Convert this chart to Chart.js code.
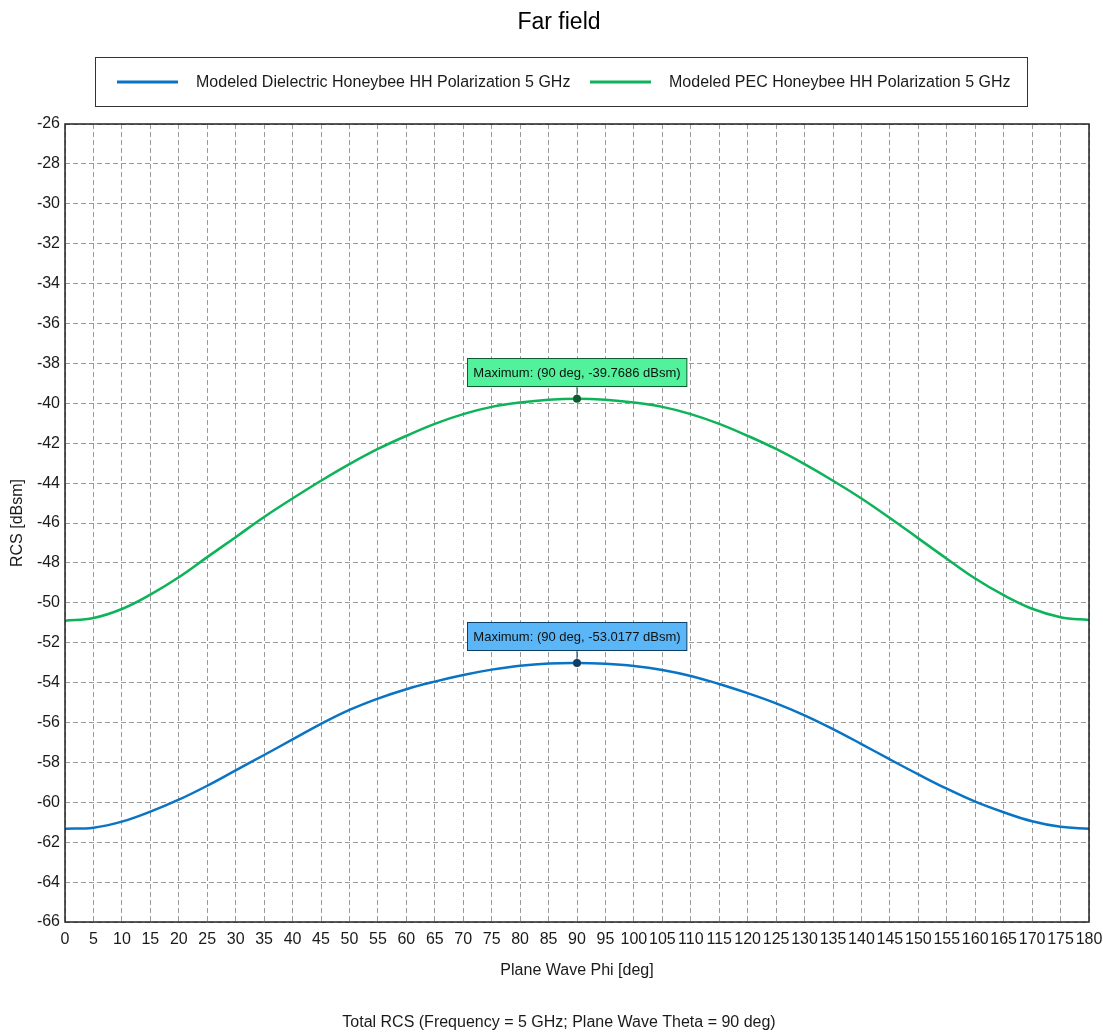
<!DOCTYPE html>
<html>
<head>
<meta charset="utf-8">
<script src="https://cdn.jsdelivr.net/npm/chart.js@4.4.1/dist/chart.umd.min.js"></script>
<style>
  html, body { margin: 0; padding: 0; background: #fff; }
</style>
</head>
<body>
<canvas id="chart" width="1103" height="1035"></canvas>
<script>
// plane wave phi angles [deg]
const phi = [0, 5, 10, 15, 20, 25, 30, 35, 40, 45, 50, 55, 60, 65, 70, 75, 80, 85, 90,
  95, 100, 105, 110, 115, 120, 125, 130, 135, 140, 145, 150, 155, 160, 165, 170, 175, 180];

// RCS [dBsm]
const dielectricRcs = [-61.33, -61.27, -60.97, -60.47, -59.87, -59.17, -58.40, -57.63, -56.85, -56.07,
  -55.37, -54.80, -54.33, -53.95, -53.62, -53.35, -53.15, -53.04, -53.0177,
  -53.06, -53.17, -53.37, -53.67, -54.07, -54.53, -55.04, -55.64, -56.33, -57.08, -57.85,
  -58.60, -59.32, -59.97, -60.50, -60.95, -61.23, -61.33];

const pecRcs = [-50.90, -50.76, -50.31, -49.59, -48.72, -47.71, -46.71, -45.70, -44.77, -43.88,
  -43.05, -42.29, -41.63, -41.03, -40.54, -40.18, -39.96, -39.82, -39.7686,
  -39.82, -39.96, -40.18, -40.54, -41.03, -41.63, -42.29, -43.05, -43.88, -44.77, -45.75,
  -46.77, -47.79, -48.78, -49.62, -50.30, -50.72, -50.86];

const seriesLabels = [
  "Modeled Dielectric Honeybee HH Polarization 5 GHz",
  "Modeled PEC Honeybee HH Polarization 5 GHz"
];
const seriesColors = ["#0a74c4", "#0cb359"];
const markerFill = ["#5ab6f7", "#52f29c"];
const markerDark = ["#0d3f66", "#0d5c30"];

const chartTitle = "Far field";
const footerText = "Total RCS (Frequency = 5 GHz; Plane Wave Theta = 90 deg)";
const xTitle = "Plane Wave Phi [deg]";
const yTitle = "RCS [dBsm]";

const FONT = "'Liberation Sans', Arial, sans-serif";
const textColor = "#1a1a1a";

const toPoints = (ys) => phi.map((x, i) => ({ x: x, y: ys[i] }));

// title, boxed legend, footer, frame and max-value markers
const decorPlugin = {
  id: "decor",
  afterDraw(chart) {
    const ctx = chart.ctx;
    const area = chart.chartArea;
    const xs = chart.scales.x;
    const ys = chart.scales.y;
    ctx.save();

    // frame round the plot
    ctx.strokeStyle = "#222";
    ctx.lineWidth = 1.5;
    ctx.strokeRect(area.left, area.top, area.right - area.left, area.bottom - area.top);

    // title
    ctx.fillStyle = "#000";
    ctx.font = "23px " + FONT;
    ctx.textAlign = "center";
    ctx.textBaseline = "middle";
    ctx.fillText(chartTitle, 559, 23);

    // footer
    ctx.font = "16px " + FONT;
    ctx.fillStyle = textColor;
    ctx.fillText(footerText, 559, 1023);

    // legend
    ctx.strokeStyle = "#333";
    ctx.lineWidth = 1;
    ctx.strokeRect(95.5, 57.5, 932, 49);
    const legendX = [117, 590];
    ctx.textAlign = "left";
    chart.data.datasets.forEach((ds, i) => {
      ctx.strokeStyle = ds.borderColor;
      ctx.lineWidth = 3;
      ctx.beginPath();
      ctx.moveTo(legendX[i], 82);
      ctx.lineTo(legendX[i] + 61, 82);
      ctx.stroke();
      ctx.fillStyle = textColor;
      ctx.fillText(ds.label, legendX[i] + 79, 83);
    });

    // maximum markers
    ctx.font = "13px " + FONT;
    chart.data.datasets.forEach((ds, i) => {
      let best = ds.data[0];
      ds.data.forEach((p) => { if (p.y > best.y) best = p; });
      const px = xs.getPixelForValue(best.x);
      const py = ys.getPixelForValue(best.y);
      const label = "Maximum: (" + best.x + " deg, " + best.y.toFixed(4) + " dBsm)";
      const w = ctx.measureText(label).width + 12;
      const h = 28;
      const bx = Math.round(px - w / 2) + 0.5;
      const by = Math.round(py - 13 - h) + 0.5;

      ctx.strokeStyle = markerDark[i];
      ctx.lineWidth = 1;
      ctx.beginPath();
      ctx.moveTo(px, by + h);
      ctx.lineTo(px, py);
      ctx.stroke();

      ctx.fillStyle = markerFill[i];
      ctx.fillRect(bx, by, w, h);
      ctx.strokeStyle = markerDark[i];
      ctx.strokeRect(bx, by, w, h);

      ctx.fillStyle = "#111";
      ctx.textAlign = "center";
      ctx.fillText(label, px, by + h / 2 + 0.5);

      ctx.fillStyle = markerDark[i];
      ctx.beginPath();
      ctx.arc(px, py, 4, 0, Math.PI * 2);
      ctx.fill();
    });

    ctx.restore();
  }
};

new Chart(document.getElementById("chart"), {
  type: "line",
  data: {
    datasets: [
      {
        label: seriesLabels[0],
        data: toPoints(dielectricRcs),
        borderColor: seriesColors[0],
        backgroundColor: seriesColors[0],
        borderWidth: 2.5,
        pointRadius: 0,
        tension: 0.4
      },
      {
        label: seriesLabels[1],
        data: toPoints(pecRcs),
        borderColor: seriesColors[1],
        backgroundColor: seriesColors[1],
        borderWidth: 2.5,
        pointRadius: 0,
        tension: 0.4
      }
    ]
  },
  options: {
    responsive: false,
    animation: false,
    events: [],
    layout: { padding: { top: 124, left: 0, right: 14, bottom: 50 } },
    plugins: {
      legend: { display: false },
      title: { display: false },
      tooltip: { enabled: false }
    },
    scales: {
      x: {
        type: "linear",
        min: 0,
        max: 180,
        afterFit: (scale) => {
          scale.height = 63;
          scale.paddingLeft = 0;
          scale.paddingRight = 0;
        },
        ticks: {
          stepSize: 5,
          autoSkip: false,
          maxRotation: 0,
          padding: 8,
          color: textColor,
          font: { family: FONT, size: 16 }
        },
        grid: { color: "#9a9a9a", lineWidth: 1, drawTicks: false },
        border: { display: false, dash: [5, 3] },
        title: {
          display: true,
          text: xTitle,
          color: textColor,
          font: { family: FONT, size: 16 },
          padding: { top: 6, bottom: 5 }
        }
      },
      y: {
        min: -66,
        max: -26,
        afterFit: (scale) => { scale.width = 65; },
        ticks: {
          stepSize: 2,
          autoSkip: false,
          padding: 5,
          color: textColor,
          font: { family: FONT, size: 16 }
        },
        grid: { color: "#9a9a9a", lineWidth: 1, drawTicks: false },
        border: { display: false, dash: [5, 3] },
        title: {
          display: true,
          text: yTitle,
          color: textColor,
          font: { family: FONT, size: 16 },
          padding: { top: 8, bottom: 8 }
        }
      }
    }
  },
  plugins: [decorPlugin]
});
</script>
</body>
</html>
